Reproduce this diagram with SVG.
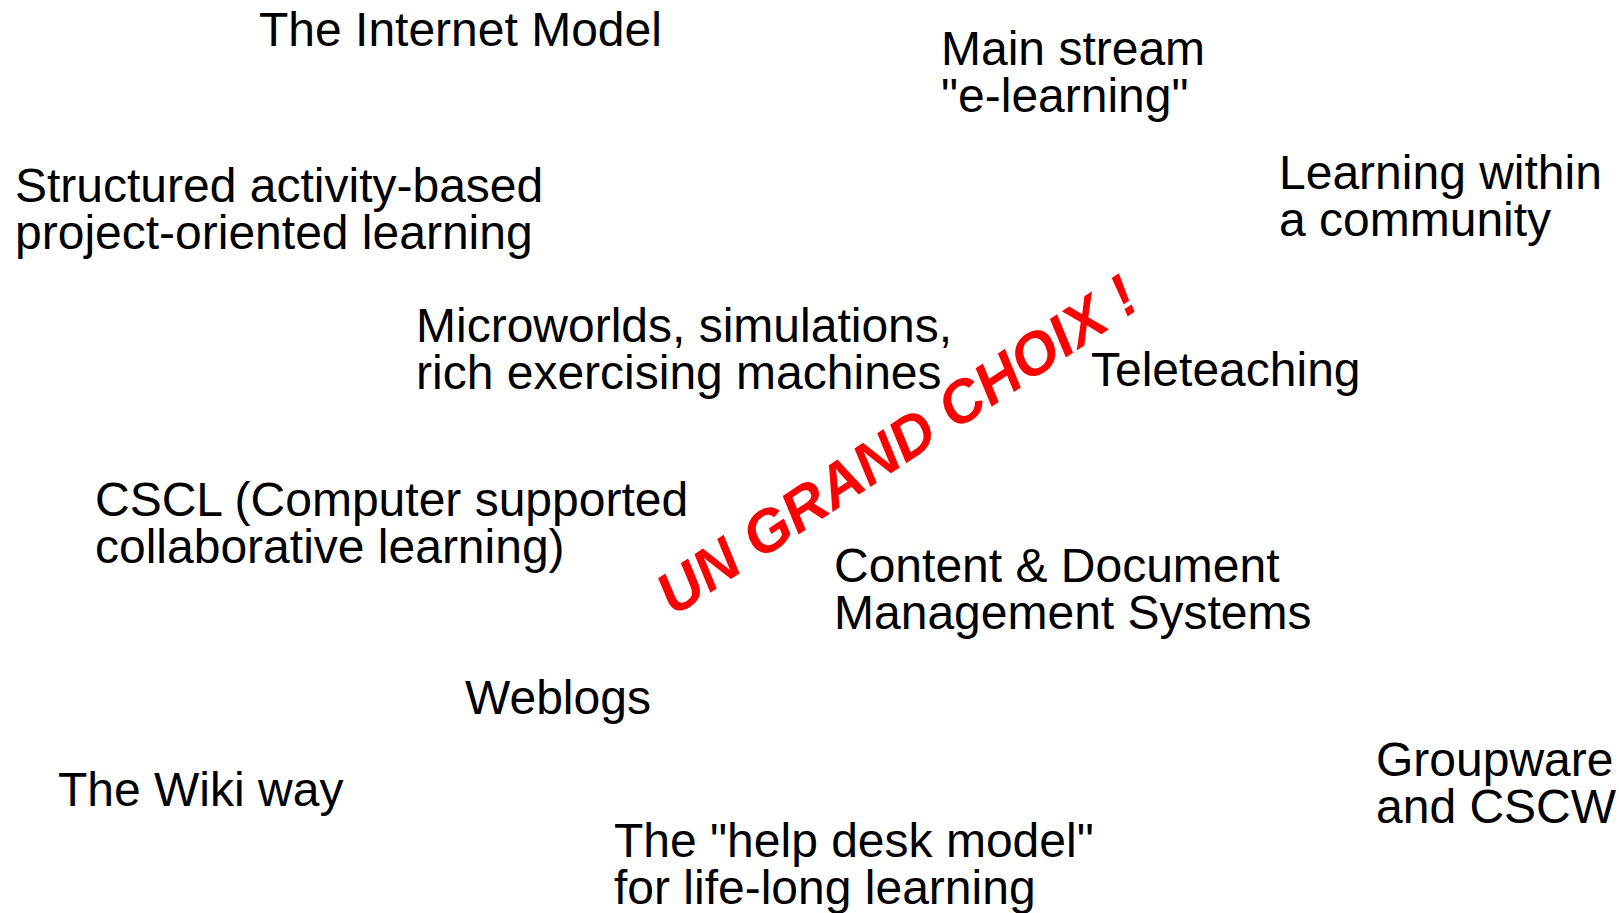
<svg xmlns="http://www.w3.org/2000/svg" width="1619" height="913" viewBox="0 0 1619 913">
  <style>
    .lbl { font-family: "Liberation Sans", Arial, sans-serif; font-size: 48px; fill: #000; }
    .stamp { font-family: "Liberation Sans", Arial, sans-serif; font-size: 59.5px; font-weight: bold; font-style: italic; fill: #ff0000; }
  </style>
  <rect width="1619" height="913" fill="#fff"/>

  <g id="internet-model"><text class="lbl" x="259" y="46">The Internet Model</text></g>
  <g id="main-stream"><text class="lbl" x="941" y="65">Main stream<tspan x="941" dy="46.5">"e-learning"</tspan></text></g>
  <g id="structured"><text class="lbl" x="15" y="202">Structured activity-based<tspan x="15" dy="46.5">project-oriented learning</tspan></text></g>
  <g id="community"><text class="lbl" x="1279" y="189">Learning within<tspan x="1279" dy="46.5">a community</tspan></text></g>
  <g id="microworlds"><text class="lbl" x="416" y="342">Microworlds, simulations,<tspan x="416" dy="46.5">rich exercising machines</tspan></text></g>
  <g id="teleteaching"><text class="lbl" x="1091" y="386">Teleteaching</text></g>
  <g id="cscl"><text class="lbl" x="95" y="516">CSCL (Computer supported<tspan x="95" dy="46.5">collaborative learning)</tspan></text></g>
  <g id="content-mgmt"><text class="lbl" x="834" y="582">Content &amp; Document<tspan x="834" dy="46.5">Management Systems</tspan></text></g>
  <g id="weblogs"><text class="lbl" x="465" y="714">Weblogs</text></g>
  <g id="wiki"><text class="lbl" x="58" y="806">The Wiki way</text></g>
  <g id="help-desk"><text class="lbl" x="614" y="857">The "help desk model"<tspan x="614" dy="46.5">for life-long learning</tspan></text></g>
  <g id="groupware"><text class="lbl" x="1376" y="776">Groupware<tspan x="1376" dy="46.5">and CSCW</tspan></text></g>

  <g id="connectors"></g>

  <!-- diagonal stamp across the middle -->
  <g id="stamp"><text class="stamp" text-anchor="middle" transform="translate(908 462) rotate(-33.5)">UN GRAND CHOIX !</text></g>
</svg>
